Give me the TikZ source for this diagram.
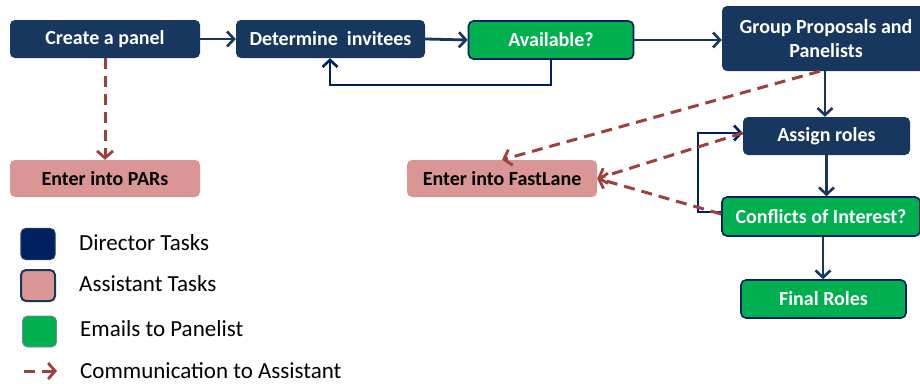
\documentclass[tikz,border=0pt]{standalone}
\usepackage{fontspec}
\setmainfont{Carlito}
\usetikzlibrary{arrows.meta}
\definecolor{navy}{HTML}{17375E}
\definecolor{dnavy}{HTML}{002060}
\definecolor{pinkbox}{HTML}{D99694}
\definecolor{greenbox}{HTML}{00B050}
\definecolor{dred}{HTML}{A0403C}
\tikzset{
  base/.style={rectangle, rounded corners=5pt, font=\fontsize{20}{22}\selectfont\bfseries, align=center, inner sep=0pt},
  dirbox/.style={base, fill=navy, text=white},
  asbox/.style={base, fill=pinkbox, text=black},
  embox/.style={base, fill=greenbox, draw=dnavy, line width=1.6pt, text=white},
  flow/.style={draw=navy, line width=2.8pt, -{Straight Barb[length=7pt,width=15pt,line width=2.6pt]}},
  loopline/.style={draw=dnavy, line width=2.8pt, -{Straight Barb[length=7pt,width=15pt,line width=2.6pt]}},
  comm/.style={draw=dred, line width=3pt, dash pattern=on 11pt off 7pt, -{Straight Barb[length=7pt,width=16pt,line width=2.8pt]}},
  legtext/.style={anchor=west, font=\fontsize{23}{25}\selectfont, text=black, inner sep=0pt},
  legsq/.style={rectangle, rounded corners=5pt, minimum width=34pt, minimum height=31pt, inner sep=0pt}
}
\begin{document}
\begin{tikzpicture}[x=1pt,y=-1pt]
\useasboundingbox (0,0) rectangle (920,383);
\begin{scope}
\clip (0,0) rectangle (920,383);
\node[dirbox, minimum width=190pt, minimum height=38pt] (create) at (105,39) {Create a panel};
\node[dirbox, minimum width=189pt, minimum height=38pt] (determine) at (330.5,39) {Determine~~invitees};
\node[embox, minimum width=165pt, minimum height=38pt] (avail) at (551,40) {Available?};
\node[dirbox, minimum width=208pt, minimum height=65pt] (group) at (826,38.5) {Group Proposals and\\[2pt]Panelists};
\node[dirbox, minimum width=167pt, minimum height=38pt] (assign) at (826.5,136) {Assign roles};
\node[embox, minimum width=198pt, minimum height=39pt] (conf) at (821,216.5) {Conflicts of Interest?};
\node[embox, minimum width=165pt, minimum height=38pt] (final) at (823.5,299) {Final Roles};
\node[asbox, minimum width=190pt, minimum height=37pt] (fast) at (502,178.5) {Enter into FastLane};
\node[asbox, minimum width=190pt, minimum height=37pt] (pars) at (105,178.5) {Enter into PARs};

\draw[flow] (create.east) -- (determine.west);
\draw[flow] (determine.east) -- (avail.west);
\draw[flow] (avail.east) -- (avail.east -| group.west);
\draw[loopline] (avail.south) |- (330,85) -- (determine.south -| 330,0);
\draw[flow] (group.south -| 825,0) -- (assign.north -| 825,0);
\draw[flow] (assign.south) -- (assign.south |- conf.north);
\draw[flow] (conf.south -| 823,0) -- (final.north -| 823,0);
\coordinate (cl) at (conf.west |- 0,212);
\coordinate (al) at (assign.west |- 0,133);
\draw[loopline] (cl) -- (698,212) -- (698,133) -- (al);

\draw[comm] (create.south) -- (pars.north);
\draw[comm] (group.south -| 820,0) -- (fast.north);
\draw[comm] (al) -- (fast.east);
\draw[comm] (conf.west |- 0,214) -- (fast.east);

% legend
\node[legsq, fill=dnavy, draw=navy, line width=1.2pt] (l1) at (38,244) {};
\node[legsq, fill=pinkbox, draw=navy, line width=2pt] (l2) at (38,285.5) {};
\node[legsq, fill=greenbox, draw=navy!60, line width=0.8pt] (l3) at (39.5,331.5) {};
\node[legtext] (t1) at (79,243) {Director Tasks};
\node[legtext] (t2) at (79,284) {Assistant Tasks};
\node[legtext] (t3) at (80,329) {Emails to Panelist};
\node[legtext] (t4) at (80,370.5) {Communication to Assistant};
\coordinate (d1) at (24,371);
\coordinate (d2) at (57,371);
\draw[comm] (d1) -- (d2);
\end{scope}
\end{tikzpicture}
\end{document}
